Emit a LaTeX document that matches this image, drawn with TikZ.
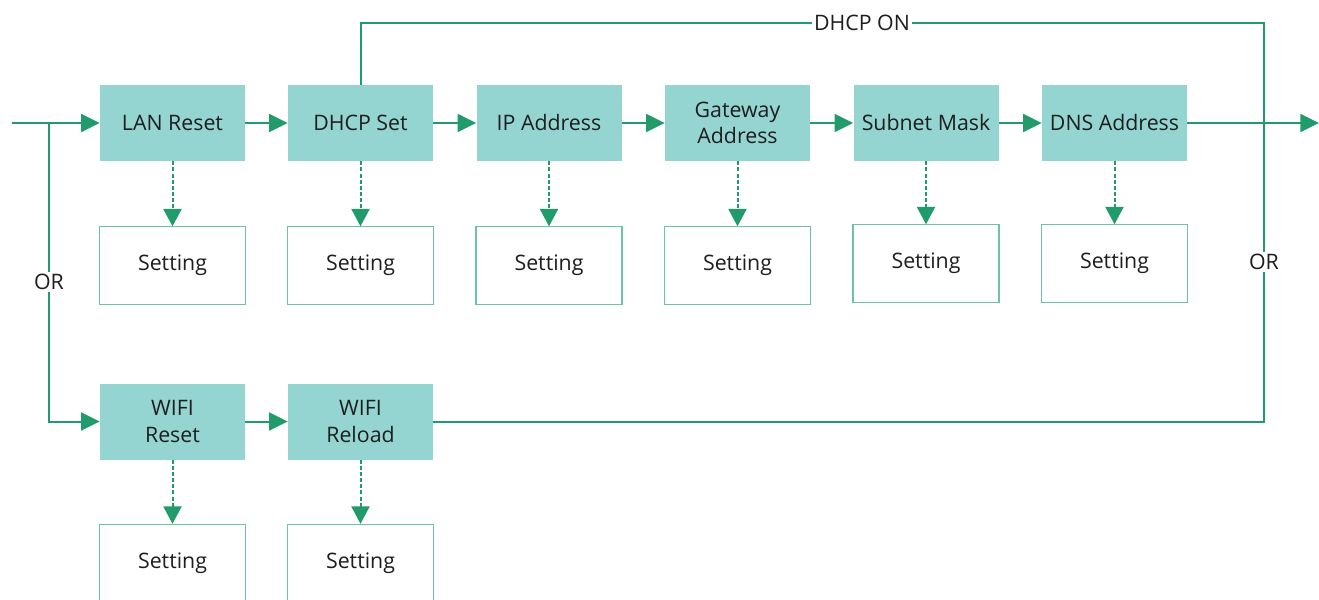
\documentclass[tikz,border=0pt]{standalone}
\usepackage{fontspec}
\setmainfont{Open Sans}
\usetikzlibrary{arrows.meta}
\definecolor{boxfill}{HTML}{94D5D2}
\definecolor{lineg}{HTML}{229B6C}
\definecolor{setb}{HTML}{6DC3A3}
\definecolor{txt}{HTML}{1E1E1E}
\tikzset{
  proc/.style={draw=none, fill=boxfill, minimum width=108.75pt, minimum height=57pt, inner sep=0pt, align=center, text=txt, font=\fontsize{16}{20}\selectfont},
  setbox/.style={draw=setb, line width=0.8pt, fill=white, minimum width=109.5pt, minimum height=58pt, inner sep=0pt, text=txt, font=\fontsize{16}{20}\selectfont},
  conn/.style={draw=lineg, line width=1.5pt},
  arr/.style={conn, -{Triangle[length=14pt,width=13.5pt]}},
  darr/.style={draw=lineg, line width=1.5pt, dash pattern=on 3pt off 1.6pt, -{Triangle[length=13pt,width=13.5pt]}},
  lbl/.style={fill=white, inner sep=1.5pt, text=txt, font=\fontsize{16}{20}\selectfont}
}
\begin{document}
\begin{tikzpicture}[x=0.75pt,y=-0.75pt]
\useasboundingbox (0,0) rectangle (1319,599);
% main row
\node[proc] (lan) at (172.5,123) {LAN Reset};
\node[proc] (dhcp) at (360.5,123) {DHCP Set};
\node[proc] (ip) at (549,123) {IP Address};
\node[proc] (gw) at (737.5,123) {Gateway\\Address};
\node[proc] (sub) at (926,123) {Subnet Mask};
\node[proc] (dns) at (1114.5,123) {DNS Address};
% settings
\node[setbox] (s1) at (172.5,265.5) {Setting};
\node[setbox] (s2) at (360.5,265.5) {Setting};
\node[setbox] (s3) at (549,265.5) {Setting};
\node[setbox] (s4) at (737.5,265.5) {Setting};
\node[setbox] (s5) at (926,263.5) {Setting};
\node[setbox] (s6) at (1114.5,263.5) {Setting};
% wifi row
\node[proc] (wr) at (172.5,421.5) {WIFI\\Reset};
\node[proc] (wl) at (360.5,421.5) {WIFI\\Reload};
\node[setbox] (ws1) at (172.5,563) {Setting};
\node[setbox] (ws2) at (360.5,563) {Setting};
% coordinates
\coordinate (in) at (12,123);
\coordinate (br) at (49,123);
\coordinate (tl) at (360.5,23);
\coordinate (tr) at (1264,23);
\coordinate (brr) at (1264,421.5);
\coordinate (out) at (1319,123);
% connectors
\draw[arr] (in) -- (lan);
\draw[arr] (lan) -- (dhcp);
\draw[arr] (dhcp) -- (ip);
\draw[arr] (ip) -- (gw);
\draw[arr] (gw) -- (sub);
\draw[arr] (sub) -- (dns);
\draw[arr] (wr) -- (wl);
\draw[arr] (br) |- (wr);
\draw[conn] (dhcp.north) -- (tl) -- (tr) -- (brr) -- (wl.east);
\draw[arr] (dns) -- (out);
\node[lbl] (orl) at (49,282) {OR};
\node[lbl] (orr) at (1264,262) {OR};
\node[lbl] (don) at (862,23) {DHCP ON};
% dashed
\draw[darr] (lan) -- (s1);
\draw[darr] (dhcp) -- (s2);
\draw[darr] (ip) -- (s3);
\draw[darr] (gw) -- (s4);
\draw[darr] (sub) -- (s5);
\draw[darr] (dns) -- (s6);
\draw[darr] (wr) -- (ws1);
\draw[darr] (wl) -- (ws2);
\end{tikzpicture}
\end{document}
